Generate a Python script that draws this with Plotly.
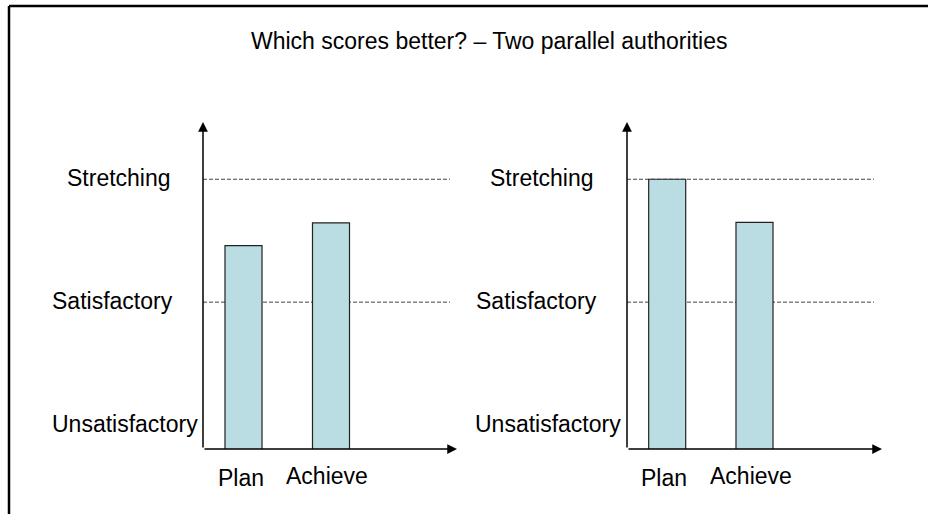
import plotly.graph_objects as go

# ---------------- data ----------------
categories = ["Plan", "Achieve"]
left_values = [2.46, 2.645]
right_values = [3.0, 2.65]
level_labels = ["Unsatisfactory", "Satisfactory", "Stretching"]
level_values = [1, 2, 3]
title_text = "Which scores better? \u2013 Two parallel authorities"

# ---------------- layout helpers ----------------
W, H = 928, 514
FONT = "Arial, Liberation Sans, sans-serif"
BAR_COLOR = "#BADDE3"
BAR_LINE = "#222222"


def px(x):
    return x / W


def py(y):
    return (H - y) / H


Y_RANGE = [0.805, 3.466]

fig = go.Figure()
fig.add_trace(go.Bar(x=categories, y=left_values, xaxis="x", yaxis="y", width=0.423,
                     marker=dict(color=BAR_COLOR, line=dict(color=BAR_LINE, width=1.2))))
fig.add_trace(go.Bar(x=categories, y=right_values, xaxis="x2", yaxis="y2", width=0.424,
                     marker=dict(color=BAR_COLOR, line=dict(color=BAR_LINE, width=1.2))))

panels = [
    ("x", "y", 203, 457, 450, [200, 175, 173], [-40.5 / 87.5, (254 - 40.5) / 87.5]),
    ("x2", "y2", 627, 882, 874, [623, 599, 596], [-40.2 / 87.3, (255 - 40.2) / 87.3]),
]

layout_axes = {}
shapes = []
annotations = []
for xa, ya, x0, x1, gend, label_edges, xr in panels:
    xkey = "xaxis" if xa == "x" else "xaxis2"
    ykey = "yaxis" if ya == "y" else "yaxis2"
    layout_axes[xkey] = dict(domain=[px(x0), px(x1)], anchor=ya, range=xr, visible=False,
                             type="category", categoryorder="array", categoryarray=categories)
    layout_axes[ykey] = dict(domain=[py(449), py(122)], anchor=xa, range=Y_RANGE, visible=False)

    # dashed level lines
    for lv in level_values[1:]:
        shapes.append(dict(type="line", xref=f"{xa} domain", yref=ya, x0=0, x1=(gend - x0) / (x1 - x0),
                           y0=lv, y1=lv, line=dict(color="#444444", width=1, dash="4px,2px"), layer="below"))

    # axis arrows
    axis_len_x = x1 - x0
    annotations.append(dict(xref=f"{xa} domain", yref=f"{ya} domain", x=1, y=0, ax=-axis_len_x, ay=0,
                            axref="pixel", ayref="pixel", text="", showarrow=True,
                            arrowhead=2, arrowsize=1.3, arrowwidth=1.5, arrowcolor="black", standoff=0))
    annotations.append(dict(xref=f"{xa} domain", yref=f"{ya} domain", x=0, y=1, ax=0, ay=449 - 122,
                            axref="pixel", ayref="pixel", text="", showarrow=True,
                            arrowhead=2, arrowsize=1.3, arrowwidth=1.5, arrowcolor="black", standoff=0))

    # level labels
    for lab, lv, edge in zip(level_labels, level_values, label_edges):
        annotations.append(dict(xref="paper", yref=ya, x=px(edge), y=lv, xanchor="right", yanchor="middle",
                                yshift=1, text=lab, showarrow=False,
                                font=dict(family=FONT, size=23, color="black")))

    # category labels
    annotations.append(dict(xref=xa, yref="paper", x=categories[0], y=py(478), xshift=-3,
                            xanchor="center", yanchor="middle", text=categories[0], showarrow=False,
                            font=dict(family=FONT, size=23, color="black")))
    annotations.append(dict(xref=xa, yref="paper", x=categories[1], y=py(476), xshift=-4,
                            xanchor="center", yanchor="middle", text=categories[1], showarrow=False,
                            font=dict(family=FONT, size=23, color="black")))

# title
annotations.append(dict(xref="paper", yref="paper", x=px(488.5), y=py(41), xanchor="center", yanchor="middle",
                        text=title_text, showarrow=False, font=dict(family=FONT, size=23, color="black")))

# frame (left and top edges visible)
shapes.append(dict(type="line", xref="paper", yref="paper", x0=px(9), x1=px(9), y0=py(6), y1=-0.05,
                   line=dict(color="black", width=2.5)))
shapes.append(dict(type="line", xref="paper", yref="paper", x0=px(9), x1=1.05, y0=py(6), y1=py(6),
                   line=dict(color="black", width=2.5)))

fig.update_layout(
    width=W, height=H, margin=dict(l=0, r=0, t=0, b=0),
    paper_bgcolor="white", plot_bgcolor="white", showlegend=False,
    shapes=shapes, annotations=annotations, **layout_axes,
)

fig.write_html("out.html", config={"displayModeBar": False},
               post_script="document.body.style.margin='0';document.body.style.overflow='hidden';")
